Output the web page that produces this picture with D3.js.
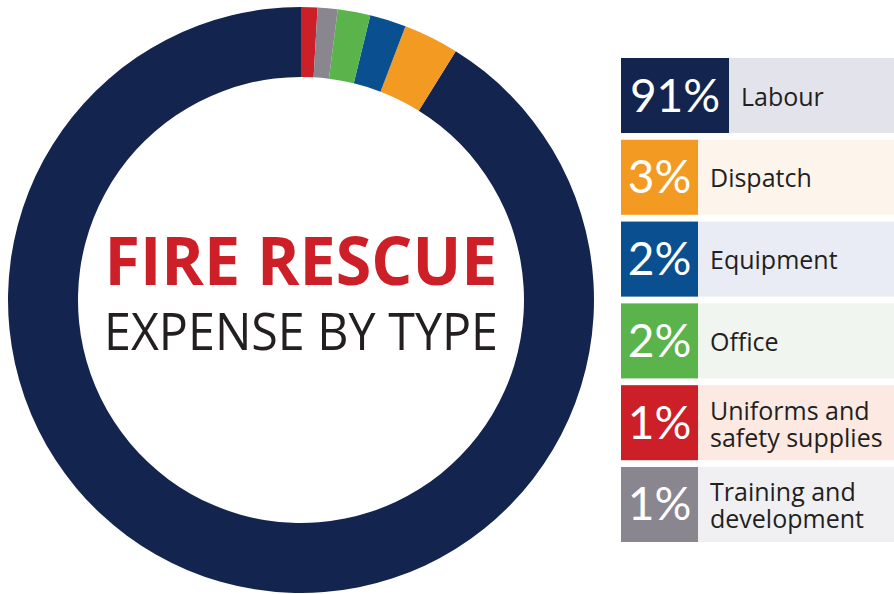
<!DOCTYPE html>
<html>
<head>
<meta charset="utf-8">
<script src="https://cdn.jsdelivr.net/npm/d3@7"></script>
<style>
  html, body { margin: 0; padding: 0; background: #fff; }
  svg { display: block; }
</style>
</head>
<body>
<div id="chart"></div>
<script>
// data
const categories = ["Labour", "Dispatch", "Equipment", "Office", "Uniforms and safety supplies", "Training and development"];
const shares = [91.1, 3.05, 2.0, 1.8, 0.9, 1.1];
const pctLabels = ["91%", "3%", "2%", "2%", "1%", "1%"];
const labelLines = [["Labour"], ["Dispatch"], ["Equipment"], ["Office"], ["Uniforms and", "safety supplies"], ["Training and", "development"]];
// clockwise from 12 o'clock
const arcOrder = ["Uniforms and safety supplies", "Training and development", "Office", "Equipment", "Dispatch", "Labour"];

const colors = ["#13254f", "#f29a21", "#0a4f8f", "#5bb44b", "#cc1f27", "#8a8690"];
const tints = ["#e3e3ec", "#fdf5ec", "#e9ecf5", "#f1f5f0", "#fbe9e2", "#f0f0f3"];

const width = 894, height = 594;
const cx = 301, cy = 300, outerR = 293, innerR = 223;

const svg = d3.select("#chart").append("svg")
  .attr("width", width)
  .attr("height", height);

const rows = categories.map((c, i) => ({ cat: c, share: shares[i], pct: pctLabels[i], lines: labelLines[i], i: i }));

// donut
const pie = d3.pie()
  .value(d => d.share)
  .sort((a, b) => arcOrder.indexOf(a.cat) - arcOrder.indexOf(b.cat));

const arc = d3.arc().innerRadius(innerR).outerRadius(outerR);

svg.append("g")
  .attr("transform", "translate(" + cx + "," + cy + ")")
  .selectAll("path")
  .data(pie(rows))
  .enter()
  .append("path")
  .attr("d", arc)
  .attr("fill", d => colors[d.data.i]);

// centre title
svg.append("text")
  .attr("x", cx)
  .attr("y", 285)
  .attr("text-anchor", "middle")
  .attr("font-family", "'Open Sans', sans-serif")
  .attr("font-weight", 700)
  .attr("font-size", 66)
  .attr("fill", "#cc1f27")
  .attr("textLength", 393)
  .attr("lengthAdjust", "spacingAndGlyphs")
  .text("FIRE RESCUE");

svg.append("text")
  .attr("x", cx)
  .attr("y", 350)
  .attr("text-anchor", "middle")
  .attr("font-family", "'Open Sans', sans-serif")
  .attr("font-weight", 400)
  .attr("font-size", 51)
  .attr("fill", "#231f20")
  .attr("textLength", 394)
  .attr("lengthAdjust", "spacingAndGlyphs")
  .text("EXPENSE BY TYPE");

// legend
const y = d3.scaleBand()
  .domain(categories)
  .range([58, 542])
  .paddingInner(0.083)
  .paddingOuter(0);

const legendX = 621, legendRight = 894;
const boxW = d => d.pct.length > 2 ? 108 : 77;

const row = svg.append("g")
  .selectAll("g")
  .data(rows)
  .enter()
  .append("g")
  .attr("transform", d => "translate(0," + y(d.cat) + ")");

row.append("rect")
  .attr("x", legendX)
  .attr("width", legendRight - legendX)
  .attr("height", y.bandwidth())
  .attr("fill", d => tints[d.i]);

row.append("rect")
  .attr("x", legendX)
  .attr("width", d => boxW(d))
  .attr("height", y.bandwidth())
  .attr("fill", d => colors[d.i]);

row.append("text")
  .attr("x", d => legendX + boxW(d) / 2)
  .attr("y", y.bandwidth() / 2 + 16)
  .attr("text-anchor", "middle")
  .attr("font-family", "Lato, sans-serif")
  .attr("font-weight", 400)
  .attr("font-size", 46)
  .attr("fill", "#fff")
  .text(d => d.pct);

// one text element per label line
row.selectAll("text.label")
  .data(d => d.lines.map((t, k) => ({ t: t, k: k, n: d.lines.length, x: legendX + boxW(d) + 12 })))
  .enter()
  .append("text")
  .attr("class", "label")
  .attr("x", d => d.x)
  .attr("y", d => d.n > 1 ? y.bandwidth() / 2 - 3 + d.k * 27 : y.bandwidth() / 2 + 10)
  .attr("font-family", "'Open Sans', sans-serif")
  .attr("font-size", 25)
  .attr("fill", "#231f20")
  .text(d => d.t);
</script>
</body>
</html>
